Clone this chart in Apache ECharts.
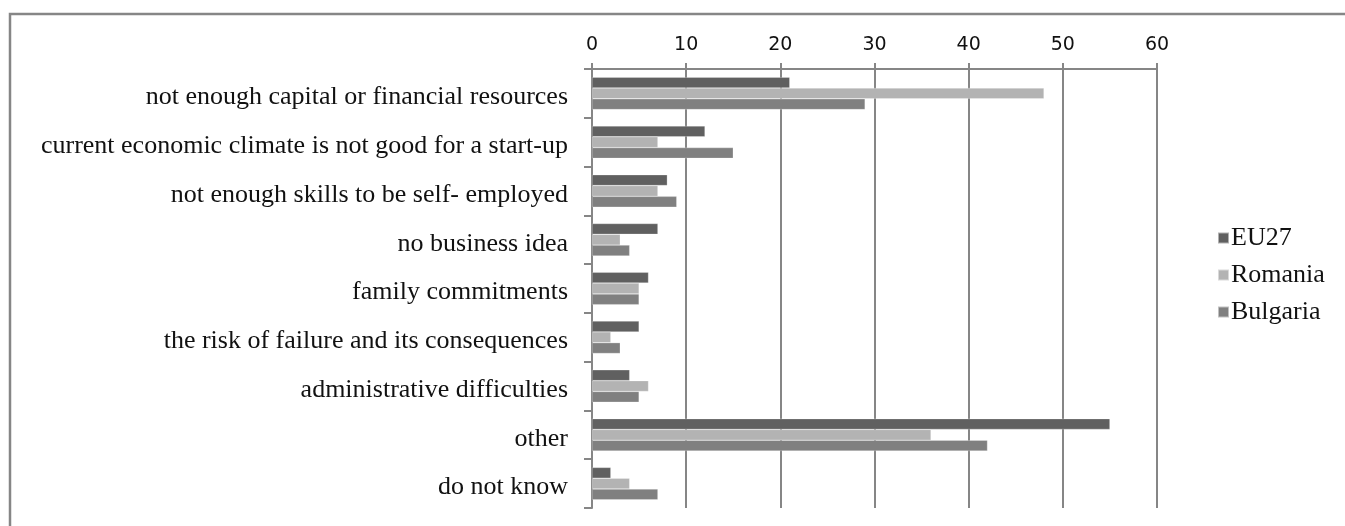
<!DOCTYPE html>
<html>
<head>
<meta charset="utf-8">
<script src="https://cdn.jsdelivr.net/npm/echarts@6/dist/echarts.min.js"></script>
<style>
  html, body { margin: 0; padding: 0; background: #fff; }
  #chart { width: 1345px; height: 526px; }
</style>
</head>
<body>
<div id="chart"></div>
<script>
// Reasons for not starting a business (%)
const categories = [
  'not enough capital or financial resources',
  'current economic climate is not good for a start-up',
  'not enough skills to be self- employed',
  'no business idea',
  'family commitments',
  'the risk of failure and its consequences',
  'administrative difficulties',
  'other',
  'do not know'
];
const eu27     = [21, 12, 8, 7, 6, 5, 4, 55, 2];
const romania  = [48, 7, 7, 3, 5, 2, 6, 36, 4];
const bulgaria = [29, 15, 9, 4, 5, 3, 5, 42, 7];
const xTicks = { min: 0, max: 60, interval: 10 };

const axisGray = '#868686';
const serif = '"Liberation Serif", "Times New Roman", serif';

const chart = echarts.init(document.getElementById('chart'), null, { renderer: 'canvas' });

function bar(name, data, color) {
  return {
    name, type: 'bar', data,
    barWidth: 10.8,
    barGap: '0%',
    itemStyle: { color, borderColor: 'rgba(255,255,255,0.5)', borderWidth: 0.5 },
    animation: false
  };
}

chart.setOption({
  animation: false,
  graphic: [{
    type: 'rect',
    shape: { x: 10, y: 14, width: 1345, height: 530 },
    style: { fill: 'none', stroke: axisGray, lineWidth: 2.5 },
    silent: true
  }],
  grid: { left: 592, right: 188, top: 69, bottom: 18, containLabel: false },
  legend: {
    orient: 'vertical',
    left: 1212, top: 220,
    itemWidth: 11, itemHeight: 11, itemGap: 11,
    icon: 'rect',
    textStyle: { fontFamily: serif, fontSize: 26, color: '#111', padding: [0, 0, 0, -3] },
    data: ['EU27', 'Romania', 'Bulgaria']
  },
  xAxis: {
    type: 'value', position: 'top',
    min: xTicks.min, max: xTicks.max, interval: xTicks.interval,
    axisLine: { show: true, lineStyle: { color: axisGray, width: 2 } },
    axisTick: { show: true, length: 6, lineStyle: { color: axisGray, width: 2 } },
    splitLine: { show: true, lineStyle: { color: axisGray, width: 2 } },
    axisLabel: { margin: 14, fontFamily: '"DejaVu Sans", sans-serif', fontSize: 19, color: '#111' }
  },
  yAxis: {
    type: 'category', inverse: true, data: categories,
    axisLine: { show: true, lineStyle: { color: axisGray, width: 2 } },
    axisTick: { show: true, length: 8, alignWithLabel: false, lineStyle: { color: axisGray, width: 2 } },
    axisLabel: {
      margin: 24,
      formatter: v => '{c|' + v + '}',
      rich: { c: { fontFamily: serif, fontSize: 26, color: '#111', padding: [8, 0, 0, 0] } }
    }
  },
  series: [
    bar('EU27', eu27, '#606060'),
    bar('Romania', romania, '#b3b3b3'),
    bar('Bulgaria', bulgaria, '#808080')
  ]
});
</script>
</body>
</html>
